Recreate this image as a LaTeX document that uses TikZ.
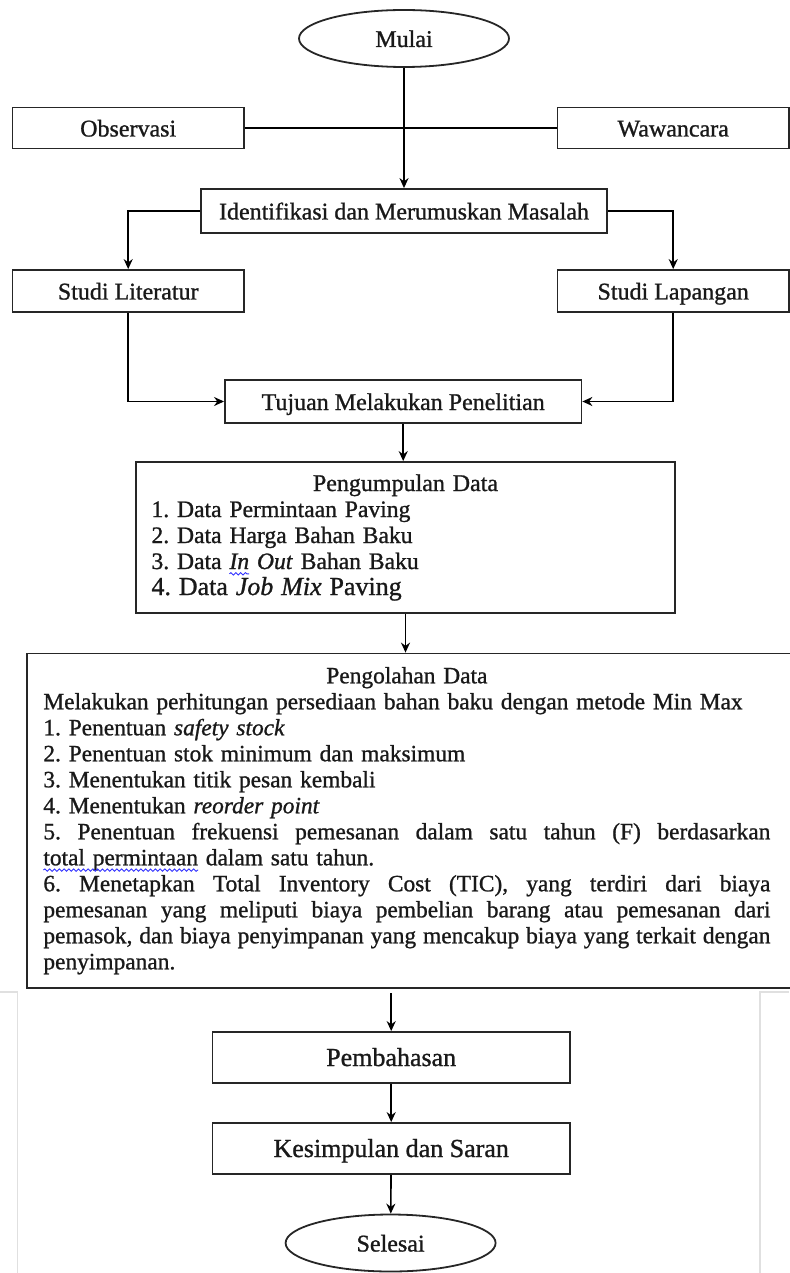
\documentclass[tikz,border=0pt]{standalone}
\usepackage{fontspec}
\setmainfont{Liberation Serif}[FakeBold=1]
\usetikzlibrary{ % tikz packages
    shapes.geometric,positioning,
    arrows.meta,decorations.pathmorphing
}
\tikzset{kotak/.style={
    draw=black!85,
    line width=0.9pt,
    rectangle,
    inner sep=2pt,
    font=\fontsize{12}{13}\selectfont
}}
\tikzset{satu/.style={
    text height=10.5pt,
    text depth=2pt
}}
\tikzset{oval/.style={
    draw=black!85,
    line width=0.9pt,
    ellipse,
    inner sep=0pt,
    minimum width=105pt,
    minimum height=28.5pt,
    font=\fontsize{12}{13}\selectfont
}}
\tikzset{>={Stealth[length=5pt,width=4.5pt]}}
% garis biru bergelombang (salah eja)
\newlength{\lebareja}
\newcommand{\salaheja}[1]{\settowidth{\lebareja}{#1}#1\tikz[overlay,baseline=0pt]{\draw[blue!80, line width=0.45pt,
    decorate, decoration={snake,amplitude=0.6pt,segment length=2.4pt}] (-\lebareja,-2.4pt) -- (0pt,-2.4pt);}}
% baris rata kiri-kanan
\newcommand{\rata}[1]{\makebox[363.5pt][s]{\spaceskip=0.25em plus 1fil minus 0.1em\relax #1}}
\frenchspacing

\begin{document}
\begin{tikzpicture}[x=1pt,y=-1pt,line width=0.8pt,text=black!90]
    \useasboundingbox (0,0) rectangle (394.5,636.5);

    \node[oval, satu] (mulai) at (202,19.25) {Mulai};
    \node[kotak, satu, minimum width=115.75pt, minimum height=20.5pt] (obs) at (64.1,64) {Observasi};
    \node[kotak, satu, minimum width=115.75pt, minimum height=20.5pt] (waw) at (336.6,64) {Wawancara};
    \node[kotak, satu, minimum width=203pt, minimum height=22pt] (iden) at (202,105.5) {Identifikasi dan Merumuskan Masalah};
    \node[kotak, satu, minimum width=115.75pt, minimum height=21pt] (lit) at (64.1,145.5) {Studi Literatur};
    \node[kotak, satu, minimum width=115.75pt, minimum height=21pt] (lap) at (336.6,145.5) {Studi Lapangan};
    \node[kotak, satu, minimum width=178.25pt, minimum height=21.5pt] (tuj) at (201.6,200.75) {Tujuan Melakukan Penelitian};
    \node[kotak, text width=254pt, inner xsep=7.75pt, minimum height=75.5pt, align=left,
          font=\fontsize{11.8}{13}\selectfont] (kump) at (202.75,268.75)
        {\makebox[254pt]{\fontsize{12}{13}\selectfont Pengumpulan Data}\\
         1. Data Permintaan Paving\\
         2. Data Harga Bahan Baku\\
         3. Data \textit{\salaheja{In} Out} Bahan Baku\\
         {\fontsize{13}{14}\selectfont 4. Data \textit{Job Mix} Paving}};
    \node[kotak, anchor=north west, text width=377.5pt, inner xsep=8.25pt, minimum height=167.2pt, align=left,
          font=\fontsize{11.7}{13}\selectfont] (olah) at (13,326.3)
        {\makebox[363.5pt]{Pengolahan Data}\\
         Melakukan perhitungan persediaan bahan baku dengan metode Min Max\\
         1. Penentuan \textit{safety stock}\\
         2. Penentuan stok minimum dan maksimum\\
         3. Menentukan titik pesan kembali\\
         4. Menentukan \textit{reorder point}\\
         \rata{5. Penentuan frekuensi pemesanan dalam satu tahun (F) berdasarkan}\\
         \salaheja{total permintaan} dalam satu tahun.\\
         \rata{6. Menetapkan Total Inventory Cost (TIC), yang terdiri dari biaya}\\
         \rata{pemesanan yang meliputi biaya pembelian barang atau pemesanan dari}\\
         \rata{pemasok, dan biaya penyimpanan yang mencakup biaya yang terkait dengan}\\
         penyimpanan.};
    \node[kotak, satu, minimum width=178.75pt, minimum height=25.5pt, font=\fontsize{13}{14}\selectfont] (pemb) at (195.6,528.75) {Pembahasan};
    \node[kotak, satu, minimum width=178.75pt, minimum height=25.5pt, font=\fontsize{13}{14}\selectfont] (kes) at (195.6,574.25) {Kesimpulan dan Saran};
    \node[oval, satu] (sel) at (195.3,621.5) {Selesai};
    \coordinate (putus) at (195.6,496.5);

    % tepi halaman
    \draw[black!12, line width=0.6pt] (0,496) -- (8.75,496) -- (8.75,636.5);
    \draw[black!12, line width=0.6pt] (394.5,496) -- (380,496) -- (380,636.5);

    \draw (obs) -- (waw);
    \draw[->] (mulai.south) -- (mulai.south |- iden.north);
    \draw[->] (iden.west) -| (lit.north);
    \draw[->] (iden.east) -| (lap.north);
    \draw[->] (lit.south) |- (tuj.west);
    \draw[->] (lap.south) |- (tuj.east);
    \draw[->] (tuj.south) -- (tuj.south |- kump.north);
    \draw[->] (kump.south) -- (kump.south |- olah.north);
    \path[->]
        (putus)
            edge (pemb)
        (pemb)
            edge (kes)
        (kes)
            edge (sel);
\end{tikzpicture}
\end{document}
